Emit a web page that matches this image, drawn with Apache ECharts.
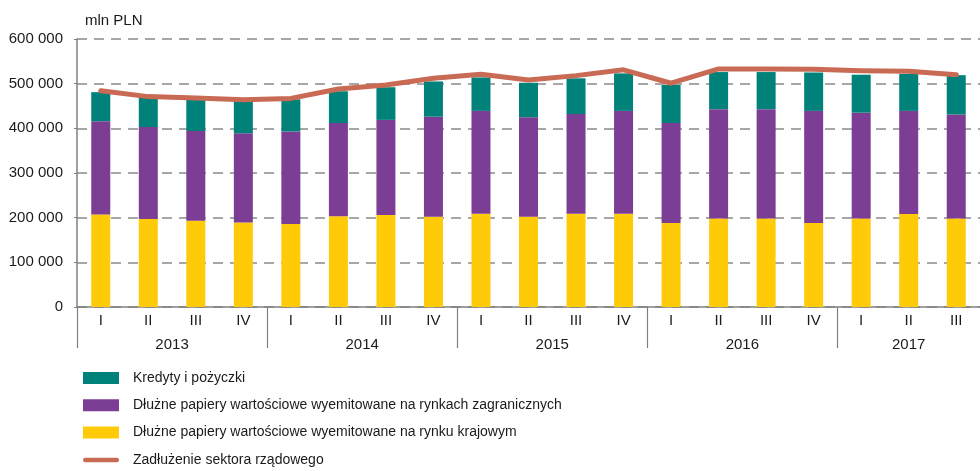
<!DOCTYPE html>
<html>
<head>
<meta charset="utf-8">
<script src="https://cdn.jsdelivr.net/npm/echarts@6/dist/echarts.min.js"></script>
<style>
  html, body { margin: 0; padding: 0; background: #fff; }
  #chart { width: 980px; height: 471px; }
</style>
</head>
<body>
<div id="chart"></div>
<script>
// quarters 2013 I .. 2017 III
const quarters = ['I','II','III','IV','I','II','III','IV','I','II','III','IV','I','II','III','IV','I','II','III']
const years = ['2013', '2014', '2015', '2016', '2017']
const yearStarts = [0, 4, 8, 12, 16]
const yearCenters = [2, 6, 10, 14, 17.5]

// mln PLN
const domestic = [207000,197000,193000,189000,186000,203000,206000,202000,209000,202000,209000,209000,188000,198000,198000,188000,198000,208000,198000]
const foreign = [209000,206000,201000,200000,207000,209000,213000,224000,230000,223000,223000,230000,224000,245000,245000,251000,237000,231000,233000]
const loans = [65000,67000,72000,73000,72000,71000,73000,79000,75000,77000,80000,84000,85000,83000,83000,86000,85000,83000,88000]
const totalDebt = [484000,471000,468000,464000,467000,488000,497000,512000,521000,508000,518000,531000,501000,533000,533000,532000,529000,528000,520000]

const names = {
  loans: 'Kredyty i pożyczki',
  foreign: 'Dłużne papiery wartościowe wyemitowane na rynkach zagranicznych',
  domestic: 'Dłużne papiery wartościowe wyemitowane na rynku krajowym',
  total: 'Zadłużenie sektora rządowego'
}

const font = "'Liberation Sans', Arial, sans-serif"
const txt = '#1a1a1a'
const axisGray = '#808080'
const lineColor = '#c96a54'

var myChart = echarts.init(document.getElementById('chart'))

const option = {
  animation: false,
  textStyle: { fontFamily: font },
  grid: { left: 77, top: 39, width: 913, bottom: 164 },
  legend: {
    orient: 'vertical',
    left: 83,
    top: 371,
    padding: 0,
    itemWidth: 36,
    itemHeight: 12,
    itemGap: 13.3,
    textStyle: { fontSize: 14, color: txt, fontFamily: font, padding: [0, 0, 0, 9] },
    data: [
      { name: names.loans, icon: 'rect' },
      { name: names.foreign, icon: 'rect' },
      { name: names.domestic, icon: 'rect' },
      { name: names.total, icon: 'path://M2.5,0 L37.5,0 A2.5,2.5 0 0 1 37.5,5 L2.5,5 A2.5,2.5 0 0 1 2.5,0 Z', itemStyle: { color: lineColor } }
    ]
  },
  xAxis: [
    {
      type: 'category',
      position: 'bottom',
      data: quarters,
      axisLine: { lineStyle: { color: axisGray, width: 1.5 } },
      axisTick: { interval: 0, length: 20, lineStyle: { color: axisGray, width: 1.2 } },
      axisLabel: { interval: 0, margin: 6, fontSize: 15, color: txt, fontFamily: font }
    },
    {
      type: 'value',
      position: 'bottom',
      min: 0,
      max: quarters.length,
      axisLine: { show: false },
      splitLine: { show: false },
      axisTick: { show: true, customValues: yearStarts, length: 41, lineStyle: { color: axisGray, width: 1.2 } },
      axisLabel: {
        customValues: yearCenters,
        margin: 30,
        fontSize: 15,
        color: txt,
        fontFamily: font,
        formatter: function (v) {
          const i = yearCenters.indexOf(v)
          return i >= 0 ? years[i] : ''
        }
      }
    }
  ],
  yAxis: {
    type: 'value',
    min: 0,
    max: 600000,
    interval: 100000,
    name: 'mln PLN',
    nameLocation: 'end',
    nameGap: 11,
    nameTextStyle: { fontSize: 15, color: txt, align: 'left', padding: [0, 0, 0, 8], fontFamily: font },
    axisLine: { show: true, lineStyle: { color: axisGray, width: 1.5 } },
    axisTick: { show: true, length: 3, lineStyle: { color: axisGray } },
    axisLabel: {
      margin: 14,
      fontSize: 15,
      color: txt,
      fontFamily: font,
      formatter: v => String(v).replace(/\B(?=(\d{3})+(?!\d))/g, ' ')
    },
    splitLine: { lineStyle: { color: '#8a8a8a', width: 1.5, type: [10, 7] } }
  },
  series: [
    {
      name: names.domestic, type: 'bar', stack: 'debt', barWidth: 19,
      itemStyle: { color: '#ffca08' }, data: domestic
    },
    {
      name: names.foreign, type: 'bar', stack: 'debt', barWidth: 19,
      itemStyle: { color: '#7c3d94' }, data: foreign
    },
    {
      name: names.loans, type: 'bar', stack: 'debt', barWidth: 19,
      itemStyle: { color: '#00827a' }, data: loans
    },
    {
      name: names.total, type: 'line', symbol: 'none',
      lineStyle: { color: lineColor, width: 5, cap: 'round', join: 'round' },
      itemStyle: { color: lineColor },
      data: totalDebt
    }
  ]
}
option && myChart.setOption(option)
</script>
</body>
</html>
